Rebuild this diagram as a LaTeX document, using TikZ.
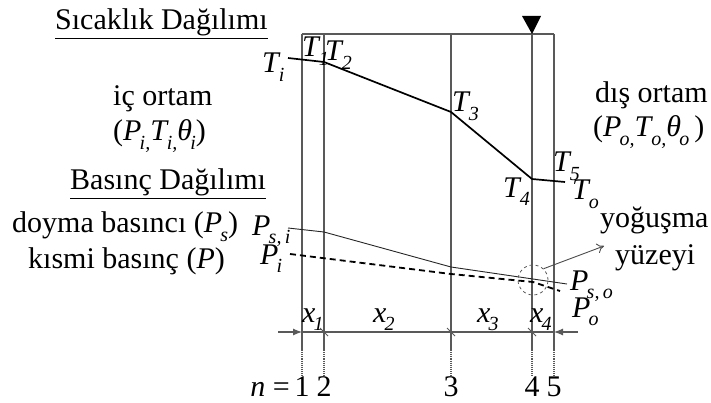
\documentclass[tikz,border=0pt]{standalone}
\usepackage{fontspec}
\setmainfont{Liberation Serif}
\usepackage{tikz}
\usetikzlibrary{positioning}
\usetikzlibrary{calc}
\usetikzlibrary{arrows.meta}
\newcommand{\va}[2]{\textit{#1}\kern-0.06em\raisebox{-0.28em}{\fontsize{20}{20}\selectfont\textit{#2}}}

\begin{document}
\begin{tikzpicture}[
    x=1pt, y=-1pt,
    wall/.style={draw=black!65, line width=1.1pt},
    txt/.style={font=\fontsize{30}{32}\selectfont, inner sep=0pt, anchor=base west},
    sym/.style={font=\fontsize{30}{32}\selectfont, inner sep=0pt, anchor=base west},
    tline/.style={line width=1.7pt, line join=round},
    psat/.style={line width=0.9pt, black!85},
    ppar/.style={line width=1.8pt, dash pattern=on 6pt off 4pt},
    >={To[length=7pt, width=10pt]}
]
    \useasboundingbox (0,0) rectangle (711,403);

    % walls and layer numbers
    \foreach \n/\x in {1/302, 2/324, 3/451, 4/532, 5/554} {
        \coordinate (top\n) at (\x, 34);
        \coordinate (bot\n) at (\x, 350);
        \coordinate (end\n) at (\x, 377);
        \draw[wall] (top\n) -- (bot\n);
        \draw[wall, densely dotted] (bot\n) -- (end\n);
        \node[txt, anchor=base] (num\n) at (\x, 396) {\n};
    }
    \draw[wall] (top1) -- (top5);
    \node[sym, anchor=base east] (neq) at (290, 396) {\textit{n} =};

    % condensation mark on top
    \fill (522, 16) -- (541, 16) -- (top4) -- cycle;

    % thickness dimensions
    \coordinate (dimL) at (278, 332);
    \coordinate (dimR) at (578, 332);
    \draw[wall, -{Latex[length=9pt, width=7pt]}] (dimL) -- (dimL -| top1);
    \draw[wall] (dimL -| top1) -- (dimL -| top5);
    \draw[wall, -{Latex[length=9pt, width=7pt]}] (dimR) -- (dimR -| top5);
    \foreach \n in {2, 3, 4} {
        \draw[wall, line width=0.8pt] ($(dimL -| top\n) + (-4, -4)$) -- ($(dimL -| top\n) + (4, 4)$);
    }
    \node[sym] (x1) at (302, 322) {\va{x}{1}};
    \node[sym] (x2) at (373, 322) {\va{x}{2}};
    \node[sym] (x3) at (477, 322) {\va{x}{3}};
    \node[sym] (x4) at (530, 322) {\va{x}{4}};

    % temperature profile
    \coordinate (pTi) at (288, 58);
    \coordinate (pT2) at (324, 62);
    \coordinate (pT3) at (451, 112);
    \coordinate (pT4) at (532, 179);
    \coordinate (pTo) at (565, 182);
    \draw[tline] (pTi) -- (pT2) -- (pT3) -- (pT4) -- (pTo);

    \node[sym] (Ti) at (262, 73) {\va{T}{i}};
    \node[sym] (T1) at (302, 57) {\va{T}{1}};
    \node[sym] (T2) at (325, 61) {\va{T}{2}};
    \node[sym] (T3) at (452, 112) {\va{T}{3}};
    \node[sym] (T4) at (503, 197) {\va{T}{4}};
    \node[sym] (T5) at (553, 172) {\va{T}{5}};
    \node[sym] (To) at (572, 200) {\va{T}{o}};

    % pressure profiles
    \coordinate (pSi) at (288, 228);
    \coordinate (pS2) at (324, 232);
    \coordinate (pS3) at (451, 267);
    \coordinate (pSo) at (567, 284);
    \draw[psat] (pSi) -- (pS2) -- (pS3) -- (pSo);

    \coordinate (pPi) at (290, 254);
    \coordinate (pP3) at (451, 274);
    \coordinate (pP4) at (533, 282);
    \coordinate (pPo) at (560, 291);
    \draw[ppar] (pPi) -- (pP3) -- (pP4) -- (pPo);

    \node[sym] (Psi) at (252, 235) {\va{P}{s,\,i}};
    \node[sym] (Pi) at (260, 264) {\va{P}{i}};
    \node[sym] (Pso) at (570, 290) {\va{P}{s,\,o}};
    \node[sym] (Po) at (572, 317) {\va{P}{o}};

    % condensation surface
    \node[circle, draw=black!65, dashed, line width=0.8pt, minimum size=30pt, inner sep=0pt] (cond) at (533, 280) {};
    \coordinate (tip) at (604, 246);
    \draw[->, black!70, line width=0.9pt] (cond.47) -- (tip);
    \node[txt] (yog) at (600, 227) {yoğuşma};
    \node[txt] (yuz) at (615, 264) {yüzeyi};

    % left side texts
    \node[txt] (sic) at (55, 30) {\underline{Sıcaklık\ Dağılımı}};
    \node[txt] (ic) at (113, 106) {iç ortam};
    \node[txt] (icv) at (113, 141) {(\va{P}{i,}\va{T}{i,}\va{θ}{i})};
    \node[txt] (bas) at (70, 190) {\underline{Basınç Dağılımı}};
    \node[txt] (doy) at (12, 233) {doyma basıncı (\va{P}{s})};
    \node[txt] (kis) at (28, 268) {kısmi basınç (\textit{P})};

    % right side texts
    \node[txt] (dis) at (595, 103) {dış ortam};
    \node[txt] (disv) at (593, 137) {(\va{P}{o,}\va{T}{o,}\va{θ}{o}\,)};
\end{tikzpicture}
\end{document}
